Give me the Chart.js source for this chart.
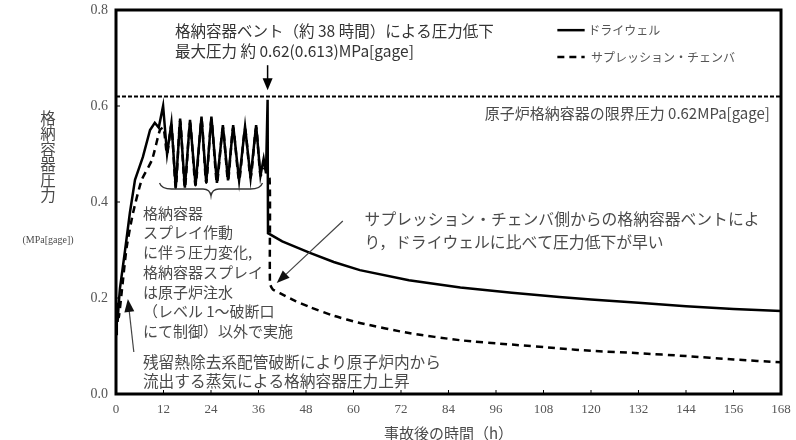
<!DOCTYPE html>
<html>
<head>
<meta charset="utf-8">
<script src="https://cdn.jsdelivr.net/npm/chart.js@4/dist/chart.umd.min.js"></script>
<style>
  html, body { margin: 0; padding: 0; background: #fff; }
</style>
</head>
<body>
<canvas id="myChart" width="796" height="440"></canvas>
<script>
// time axis (h) and pressure (MPa[gage])
const xTicks = [0, 12, 24, 36, 48, 60, 72, 84, 96, 108, 120, 132, 144, 156, 168];
const yTicks = [0.0, 0.2, 0.4, 0.6, 0.8];

// ドライウェル
const dwTime = [0, 0.2, 0.4, 0.7, 1.0, 2.3, 3.5, 4.8, 6.8, 8.6, 9.8, 10.8,
  11.9, 12.9, 14.0, 15.1, 16.2, 17.4, 18.7, 20.1, 21.6, 22.8, 24.1, 25.5,
  27.0, 28.3, 29.6, 31.1, 32.6, 34.0, 35.4, 36.5, 37.3, 37.9, 38.3, 38.4,
  42, 49, 55, 61.6, 74, 87, 100, 112, 120, 132, 144, 156, 168];
const dwPress = [0.125, 0.19, 0.15, 0.19, 0.22, 0.30, 0.377, 0.446, 0.494, 0.55, 0.565, 0.555,
  0.60, 0.50, 0.565, 0.43, 0.574, 0.43, 0.571, 0.435, 0.578, 0.44, 0.578, 0.44,
  0.56, 0.445, 0.56, 0.445, 0.557, 0.45, 0.56, 0.455, 0.49, 0.46, 0.613, 0.335,
  0.318, 0.294, 0.275, 0.258, 0.237, 0.222, 0.211, 0.202, 0.197, 0.19, 0.183, 0.177, 0.173];

// サプレッション・チェンバ
const wwTime = [0, 0.3, 0.7, 1.5, 2.7, 4.3, 6.5, 9.1, 11.1, 12.0,
  12.9, 14.0, 15.1, 16.2, 17.4, 18.7, 20.1, 21.6, 22.8, 24.1,
  25.5, 27.0, 28.3, 29.6, 31.1, 32.6, 34.0, 35.4, 36.5, 37.5,
  38.8, 38.9, 39.6, 41.4, 45, 49, 55, 61.6, 74, 87,
  100, 112, 120, 132, 144, 156, 168];
const wwPress = [0.125, 0.17, 0.16, 0.217, 0.306, 0.377, 0.446, 0.488, 0.55, 0.555,
  0.50, 0.56, 0.43, 0.57, 0.43, 0.565, 0.435, 0.572, 0.44, 0.572,
  0.44, 0.555, 0.445, 0.555, 0.445, 0.552, 0.45, 0.555, 0.455, 0.47,
  0.45, 0.23, 0.218, 0.21, 0.195, 0.181, 0.163, 0.148, 0.127, 0.112,
  0.103, 0.095, 0.09, 0.085, 0.079, 0.072, 0.066];

// 限界圧力
const limitTime = [0, 168];
const limitPress = 0.62;

const JP = "'Noto Sans CJK JP', 'Noto Sans', sans-serif";
const SERIF = "'Liberation Serif', 'DejaVu Serif', serif";
const TXT = '#4a4a4a';

function arrow(ctx, x1, y1, x2, y2, len, wid) {
  const ang = Math.atan2(y2 - y1, x2 - x1);
  ctx.beginPath();
  ctx.moveTo(x1, y1);
  ctx.lineTo(x2 - Math.cos(ang) * len * 0.8, y2 - Math.sin(ang) * len * 0.8);
  ctx.stroke();
  ctx.beginPath();
  ctx.moveTo(x2, y2);
  ctx.lineTo(x2 - Math.cos(ang) * len + Math.sin(ang) * wid, y2 - Math.sin(ang) * len - Math.cos(ang) * wid);
  ctx.lineTo(x2 - Math.cos(ang) * len - Math.sin(ang) * wid, y2 - Math.sin(ang) * len + Math.cos(ang) * wid);
  ctx.closePath();
  ctx.fill();
}

const notes = {
  id: 'notes',
  afterDraw(chart) {
    const { ctx, chartArea: a, scales: { x, y } } = chart;
    const px = v => x.getPixelForValue(v);
    const py = v => y.getPixelForValue(v);
    ctx.save();

    // frame + inward ticks
    ctx.strokeStyle = '#000';
    ctx.lineWidth = 3;
    ctx.strokeRect(a.left, a.top, a.right - a.left, a.bottom - a.top);
    ctx.lineWidth = 1;
    xTicks.forEach(t => {
      ctx.beginPath(); ctx.moveTo(px(t), a.bottom); ctx.lineTo(px(t), a.bottom - 4); ctx.stroke();
    });
    yTicks.forEach(p => {
      ctx.beginPath(); ctx.moveTo(a.left, py(p)); ctx.lineTo(a.left + 4, py(p)); ctx.stroke();
    });

    // axis titles
    ctx.fillStyle = TXT;
    ctx.textAlign = 'center';
    ctx.textBaseline = 'middle';
    ctx.font = '15.5px ' + JP;
    '格納容器圧力'.split('').forEach((c, i) => ctx.fillText(c, 48, 118 + i * 15.5));
    ctx.font = '10px ' + SERIF;
    ctx.fillText('(MPa[gage])', 48, 240);
    ctx.font = '15px ' + JP;
    ctx.fillText('事故後の時間（h）', (a.left + a.right) / 2, 433);

    // legend
    ctx.textAlign = 'left';
    ctx.strokeStyle = '#000';
    ctx.lineWidth = 2.5;
    ctx.beginPath(); ctx.moveTo(px(111.5), py(0.758)); ctx.lineTo(px(118.4), py(0.758)); ctx.stroke();
    ctx.setLineDash([7, 5]);
    ctx.beginPath(); ctx.moveTo(px(111.5), py(0.702)); ctx.lineTo(px(118.4), py(0.702)); ctx.stroke();
    ctx.setLineDash([]);
    ctx.fillStyle = '#555';
    ctx.font = '12px ' + JP;
    ctx.fillText('ドライウェル', px(119.3), py(0.758));
    ctx.fillText('サプレッション・チェンバ', px(120), py(0.702));

    // top note + arrow
    ctx.fillStyle = '#333';
    ctx.font = '15.5px ' + JP;
    ctx.fillText('格納容器ベント（約 38 時間）による圧力低下', px(14.9), py(0.755));
    ctx.fillText('最大圧力 約 0.62(0.613)MPa[gage]', px(14.9), py(0.715));
    ctx.fillStyle = '#000';
    ctx.lineWidth = 1.5;
    arrow(ctx, px(38.3), py(0.685), px(38.3), py(0.633), 12, 5);

    // limit label
    ctx.fillStyle = TXT;
    ctx.textAlign = 'right';
    ctx.font = '15px ' + JP;
    ctx.fillText('原子炉格納容器の限界圧力 0.62MPa[gage]', px(165.2), py(0.585));

    // brace under the spray oscillations
    const bl = px(11), br = px(37), bm = (bl + br) / 2, bt = 183, bb = 196;
    ctx.strokeStyle = '#333';
    ctx.lineWidth = 1.3;
    ctx.beginPath();
    ctx.moveTo(bl, bt);
    ctx.quadraticCurveTo(bl + 2, bt + 6, bl + 12, bt + 6);
    ctx.lineTo(bm - 8, bt + 6);
    ctx.quadraticCurveTo(bm - 1, bt + 6, bm, bb);
    ctx.quadraticCurveTo(bm + 1, bt + 6, bm + 8, bt + 6);
    ctx.lineTo(br - 12, bt + 6);
    ctx.quadraticCurveTo(br - 2, bt + 6, br, bt);
    ctx.stroke();

    // left note
    ctx.textAlign = 'left';
    ctx.fillStyle = TXT;
    ctx.font = '15px ' + JP;
    const leftLines = ['格納容器', 'スプレイ作動', 'に伴う圧力変化,', '格納容器スプレイ',
      'は原子炉注水', '（レベル 1～破断口', 'にて制御）以外で実施'];
    leftLines.forEach((s, i) => ctx.fillText(s, px(6.8), 213 + i * 19.7));
    ctx.font = '15.7px ' + JP;
    ctx.fillText('残留熱除去系配管破断により原子炉内から', px(6.8), 362);
    ctx.fillText('流出する蒸気による格納容器圧力上昇', px(6.8), 381);

    // right note
    ctx.font = '15.8px ' + JP;
    ctx.fillText('サプレッション・チェンバ側からの格納容器ベントによ', px(62.8), 219);
    ctx.fillText('り，ドライウェルに比べて圧力低下が早い', px(62.8), 242);

    // note arrows
    ctx.strokeStyle = '#444';
    ctx.fillStyle = '#111';
    ctx.lineWidth = 1.2;
    arrow(ctx, px(57.3), 221, px(40.6), 283, 13, 5);
    arrow(ctx, px(4.5), 352, px(3.0), 299, 13, 5);

    ctx.restore();
  }
};

const toXY = (ts, ps) => ts.map((t, i) => ({ x: t, y: ps[i] }));

const ctx = document.getElementById('myChart');
const myChart = new Chart(ctx, {
  type: 'line',
  data: {
    datasets: [
      {
        label: 'ドライウェル',
        data: toXY(dwTime, dwPress),
        borderColor: '#000',
        borderWidth: 2.5,
        pointRadius: 0,
        tension: 0,
        order: 0
      }, {
        label: 'サプレッション・チェンバ',
        data: toXY(wwTime, wwPress),
        borderColor: '#000',
        borderWidth: 2.5,
        borderDash: [7, 5],
        pointRadius: 0,
        tension: 0.2,
        order: 1
      }, {
        label: '限界圧力',
        data: limitTime.map(t => ({ x: t, y: limitPress })),
        borderColor: '#000',
        borderWidth: 2,
        borderDash: [4, 2],
        pointRadius: 0,
        order: 2
      }
    ]
  },
  options: {
    responsive: false,
    animation: false,
    layout: { padding: { top: 10, right: 15, left: 0, bottom: 0 } },
    plugins: {
      legend: { display: false },
      tooltip: { enabled: false }
    },
    scales: {
      x: {
        type: 'linear',
        min: 0,
        max: 168,
        afterFit: s => { s.height = 46; },
        afterBuildTicks: s => { s.ticks = xTicks.map(v => ({ value: v })); },
        grid: { display: false },
        border: { display: false },
        ticks: {
          color: '#555',
          padding: 0,
          maxRotation: 0,
          font: { size: 13, family: SERIF }
        }
      },
      y: {
        min: 0,
        max: 0.8,
        afterFit: s => { s.width = 116; },
        afterBuildTicks: s => { s.ticks = yTicks.map(v => ({ value: v })); },
        grid: { display: false },
        border: { display: false },
        ticks: {
          color: '#555',
          padding: 0,
          font: { size: 14, family: SERIF },
          callback: v => v.toFixed(1)
        }
      }
    }
  },
  plugins: [notes]
});
</script>
</body>
</html>
